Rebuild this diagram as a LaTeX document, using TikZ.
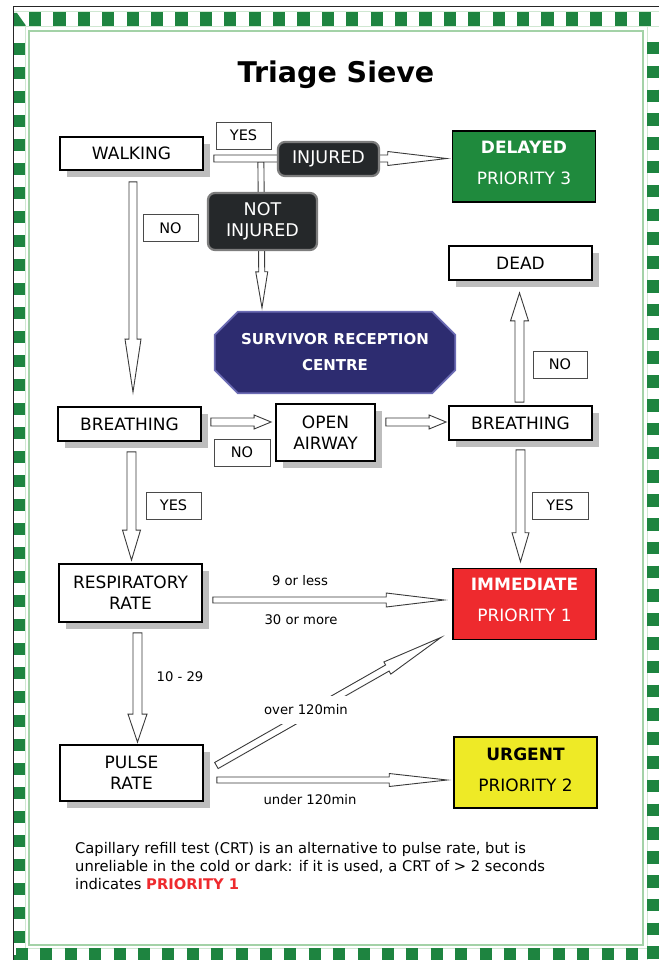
\documentclass[tikz,border=0pt]{standalone}
\usepackage{fontspec}
\setmainfont{DejaVu Sans}
\usetikzlibrary{calc,shadows}
\definecolor{bgreen}{HTML}{1E8440}
\definecolor{framegreen}{HTML}{A3D2A7}
\definecolor{bandedge}{HTML}{CFE7D1}
\definecolor{shadowgray}{HTML}{BDBDBD}
\definecolor{labgray}{HTML}{4A4A4A}
\definecolor{darkfill}{HTML}{25282A}
\definecolor{darkborder}{HTML}{7D7D7D}
\definecolor{delgreen}{HTML}{1F8A3D}
\definecolor{immred}{HTML}{EE2A2E}
\definecolor{urgyellow}{HTML}{EEEA26}
\definecolor{navyfill}{HTML}{2D2C70}
\definecolor{navyborder}{HTML}{6C6CB4}
\definecolor{arrowgray}{HTML}{3A3A3A}
\definecolor{prred}{HTML}{EE2A2E}
\pgfdeclarelayer{back}
\pgfdeclarelayer{bg}
\pgfsetlayers{back,bg,main}
\newcommand\blockarrow[5]{%
  \coordinate (hb) at ($(#2)!#3!(#1)$);
  \draw[barrow] ($(#1)!#5!90:(#2)$) -- ($(hb)!#5!90:(#2)$) -- ($(hb)!#4!90:(#2)$) -- (#2)
     -- ($(hb)!#4!-90:(#2)$) -- ($(hb)!#5!-90:(#2)$) -- ($(#1)!#5!-90:(#2)$) -- cycle;}
\tikzset{
  box/.style={draw=black, line width=1.8pt, fill=white, inner sep=0pt, align=center,
    font=\fontsize{17}{21}\selectfont,
    drop shadow={shadow xshift=6.5pt, shadow yshift=-7pt, fill=shadowgray, opacity=1}},
  lab/.style={draw=labgray, line width=0.8pt, fill=white, inner sep=0pt,
    font=\fontsize{14.5}{18}\selectfont, minimum width=55pt, minimum height=27pt},
  darkbox/.style={draw=darkborder, line width=2.2pt, fill=darkfill, rounded corners=7pt,
    text=white, inner sep=0pt, align=center, font=\fontsize{17.5}{21}\selectfont},
  prio/.style={draw=black, line width=1.6pt, inner sep=0pt, align=center,
    minimum width=143pt, minimum height=71pt, font=\fontsize{17}{21}\selectfont},
  barrow/.style={draw=arrowgray, line width=0.9pt, fill=white, line join=miter},
  small/.style={font=\fontsize{13.2}{16}\selectfont, inner sep=1pt},
  band/.style={bgreen, line width=12pt},
}
\begin{document}
\begin{tikzpicture}[x=1pt,y=-1pt]
\useasboundingbox (0,0) rectangle (659,960);
\begin{pgfonlayer}{back}
\fill[white] (0,0) rectangle (659,960);
\end{pgfonlayer}
% ---------- border ----------
\draw[bandedge, line width=0.8pt] (13,11) -- (659,11) (13,26) -- (659,26)
  (25.5,26) -- (25.5,960) (647,26) -- (647,960) (25.5,948) -- (647,948);
\draw[band, line width=14pt, dash pattern=on 12.2pt off 12.2pt] (29,18.7) -- (659,18.7);
\draw[band, dash pattern=on 12pt off 12pt] (19.2,43) -- (19.2,960);
\draw[band, dash pattern=on 12.5pt off 11.3pt] (653,42) -- (653,960);
\draw[band, dash pattern=on 12pt off 12.4pt] (16,954) -- (647,954);
\fill[bgreen] (13,13) -- (17,13) -- (25.5,25) -- (25.5,26) -- (13,26) -- cycle;
\draw[black!85, line width=1.1pt] (13.5,960) -- (13.5,6.5) -- (659,6.5);
\draw[framegreen, line width=1.6pt] (29,31) rectangle (643,945);
% ---------- title ----------
\node[font=\fontsize{28.5}{34}\selectfont\bfseries, anchor=base, inner sep=0pt] (title) at (336,82.5) {Triage Sieve};
% ---------- nodes ----------
\node[box, minimum width=143pt, minimum height=33pt] (walk) at (131.5,153.5) {WALKING};
\node[lab] (yes1) at (243.5,135.5) {YES};
\node[darkbox, minimum width=101pt, minimum height=34pt] (injured) at (328.5,159) {INJURED};
\node[darkbox, minimum width=109pt, minimum height=57pt] (notinj) at (262.5,221.5) {NOT\\INJURED};
\node[lab] (no1) at (170.5,228) {NO};
\node[prio, fill=delgreen, text=white] (delayed) at (524,166.5) {\textbf{DELAYED}\\[10pt]PRIORITY 3\rule[-8pt]{0pt}{8pt}};
\node[box, minimum width=143pt, minimum height=34pt] (dead) at (520.5,263) {DEAD};
\node[lab, minimum width=54pt] (no3) at (560,364.5) {NO};
\node[text=white, font=\fontsize{15}{26}\selectfont\bfseries, align=center, inner sep=0pt,
  minimum width=240pt, minimum height=81pt] (src) at (335,352.5) {SURVIVOR RECEPTION\\CENTRE};
\node[box, minimum width=143pt, minimum height=34pt] (breath1) at (129.5,424) {BREATHING};
\node[lab, minimum width=56pt] (no2) at (242,452.5) {NO};
\node[box, minimum width=99pt, minimum height=57pt] (airway) at (325.5,432.5) {OPEN\\AIRWAY};
\node[box, minimum width=143pt, minimum height=34pt] (breath2) at (520.5,423) {BREATHING};
\node[lab] (yes2) at (173.5,505.5) {YES};
\node[lab, minimum width=56pt] (yes3) at (560,505.5) {YES};
\node[box, minimum width=143pt, minimum height=58pt] (rr) at (130.5,593) {RESPIRATORY\\RATE};
\node[prio, fill=immred, text=white] (immediate) at (524.5,604) {\textbf{IMMEDIATE}\\[10pt]PRIORITY 1\rule[-8pt]{0pt}{8pt}};
\node[box, minimum width=143pt, minimum height=56pt] (pulse) at (131.5,773) {PULSE\\RATE};
\node[prio, fill=urgyellow, minimum height=71pt] (urgent) at (525.5,772.5) {\textbf{URGENT}\\[10pt]PRIORITY 2\rule[-6pt]{0pt}{6pt}};
% ---------- edge labels ----------
\node[small] (l9) at (300,581) {9 or less};
\node[small] (l30) at (301,619.5) {30 or more};
\node[small] (l1029) at (180,677) {10 - 29};
\node[small, fill=white, inner sep=0pt, minimum width=88pt, minimum height=28pt] (lover) at (306,710) {over 120min};
\node[small] (lunder) at (310,800) {under 120min};
% ---------- note ----------
\node[anchor=north west, align=left, inner sep=0pt, font=\fontsize{14.7}{18}\selectfont] (note) at (75,842)
  {Capillary refill test (CRT) is an alternative to pulse rate, but is\\
   unreliable in the cold or dark: if it is used, a CRT of > 2 seconds\\
   indicates \textcolor{prred}{\textbf{PRIORITY 1}}};
% ---------- connectors ----------
\begin{pgfonlayer}{bg}
\fill[navyfill] ($(src.north west)+(23,0)$) -- ($(src.north east)+(-23,0)$) -- ($(src.north east)+(0,23)$)
  -- ($(src.south east)+(0,-23)$) -- ($(src.south east)+(-23,0)$) -- ($(src.south west)+(23,0)$)
  -- ($(src.south west)+(0,-23)$) -- ($(src.north west)+(0,23)$) -- cycle;
\draw[navyborder, line width=1.8pt, line join=miter] ($(src.north west)+(23,0)$) -- ($(src.north east)+(-23,0)$) -- ($(src.north east)+(0,23)$)
  -- ($(src.south east)+(0,-23)$) -- ($(src.south east)+(-23,0)$) -- ($(src.south west)+(23,0)$)
  -- ($(src.south west)+(0,-23)$) -- ($(src.north west)+(0,23)$) -- cycle;
% walking -> injured -> delayed
\coordinate (a1s) at ($(walk.east)+(10,5)$);
\coordinate (a1e) at ($(delayed.west)+(-5,-8)$);
% branch -> not injured -> survivor reception
\coordinate (a2s) at ($(injured.west)+(-16,3)$);
\coordinate (a2e) at ($(src.north)+(-73,-4)$);
\blockarrow{a2s}{a2e}{36pt}{6pt}{3pt}
\blockarrow{a1s}{a1e}{59pt}{7pt}{3.5pt}
% walking -> breathing
\coordinate (a3s) at ($(walk.south)+(1.5,11)$);
\coordinate (a3e) at ($(breath1.north)+(3.5,-14)$);
\blockarrow{a3s}{a3e}{53pt}{8pt}{4pt}
% breathing -> open airway
\coordinate (a4s) at ($(breath1.east)+(9,-2)$);
\coordinate (a4e) at ($(airway.west)+(-4,-10.5)$);
\blockarrow{a4s}{a4e}{17pt}{7pt}{4pt}
% open airway -> breathing
\coordinate (a5s) at ($(airway.east)+(10,-10.5)$);
\coordinate (a5e) at ($(breath2.west)+(-2,-1)$);
\blockarrow{a5s}{a5e}{17pt}{7pt}{4pt}
% breathing -> dead
\coordinate (a6s) at ($(breath2.north)+(-1,-3)$);
\coordinate (a6e) at ($(dead.south)+(-1,12)$);
\blockarrow{a6s}{a6e}{28pt}{9pt}{4.5pt}
% breathing -> immediate
\coordinate (a7s) at ($(breath2.south)+(0,9)$);
\coordinate (a7e) at ($(immediate.north)+(-4,-6)$);
\blockarrow{a7s}{a7e}{29pt}{8.5pt}{4.5pt}
% breathing -> respiratory rate
\coordinate (a8s) at ($(breath1.south)+(2,10)$);
\coordinate (a8e) at ($(rr.north)+(1,-3)$);
\blockarrow{a8s}{a8e}{30pt}{9pt}{4.5pt}
% respiratory rate -> immediate
\coordinate (a9s) at ($(rr.east)+(10,7)$);
\coordinate (a9e) at ($(immediate.west)+(-8,-4)$);
\blockarrow{a9s}{a9e}{58pt}{7pt}{3pt}
% respiratory rate -> pulse rate
\coordinate (a10s) at ($(rr.south)+(7,10)$);
\coordinate (a10e) at ($(pulse.north)+(6,-2)$);
\blockarrow{a10s}{a10e}{28pt}{9.5pt}{4.5pt}
% pulse rate -> immediate
\coordinate (a11s) at ($(pulse.east)+(12.5,-7.5)$);
\coordinate (a11e) at ($(immediate.south west)+(-11,-3)$);
\blockarrow{a11s}{a11e}{62pt}{7pt}{3.5pt}
% pulse rate -> urgent
\coordinate (a12s) at ($(pulse.east)+(13,7)$);
\coordinate (a12e) at ($(urgent.west)+(-6,7.5)$);
\blockarrow{a12s}{a12e}{58pt}{6.5pt}{3pt}
\end{pgfonlayer}
\end{tikzpicture}
\end{document}
